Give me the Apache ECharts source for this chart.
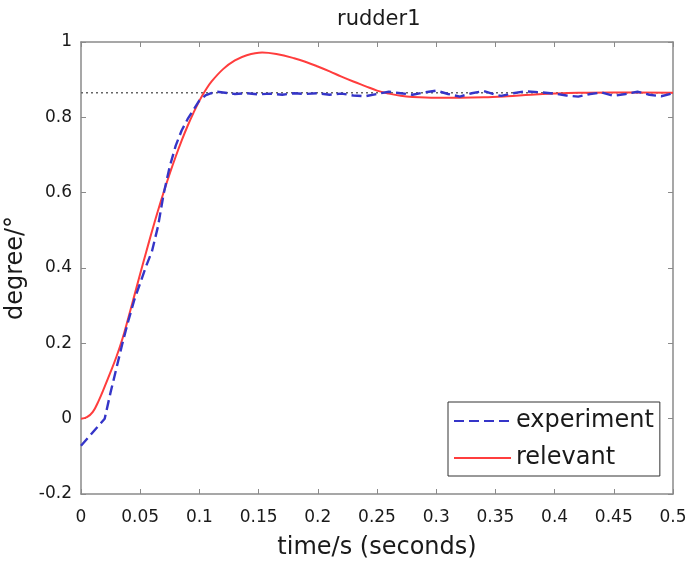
<!DOCTYPE html>
<html>
<head>
<meta charset="utf-8">
<script src="https://cdn.jsdelivr.net/npm/echarts@6/dist/echarts.min.js"></script>
<style>
  html, body { margin: 0; padding: 0; background: #fff; }
  #chart { width: 688px; height: 562px; }
</style>
</head>
<body>
<div id="chart"></div>
<script>
var chartDom = document.getElementById('chart')
var chart = echarts.init(chartDom)

// time samples (s) and values (degree)
var relevantT = [0, 0.005, 0.01, 0.015, 0.02, 0.025, 0.03, 0.035, 0.04, 0.045, 0.05, 0.055, 0.06, 0.065, 0.07, 0.075, 0.08, 0.085, 0.09, 0.095, 0.1, 0.105, 0.11, 0.12, 0.13, 0.14, 0.153, 0.165, 0.18, 0.19, 0.2, 0.21, 0.22, 0.23, 0.24, 0.25, 0.26, 0.27, 0.28, 0.3, 0.32, 0.34, 0.36, 0.38, 0.4, 0.42, 0.45, 0.5]
var relevantY = [0, 0.004, 0.018, 0.048, 0.085, 0.124, 0.165, 0.212, 0.268, 0.326, 0.385, 0.442, 0.498, 0.552, 0.603, 0.651, 0.696, 0.738, 0.777, 0.812, 0.844, 0.871, 0.894, 0.928, 0.951, 0.965, 0.972, 0.968, 0.957, 0.947, 0.935, 0.922, 0.908, 0.895, 0.883, 0.871, 0.863, 0.857, 0.854, 0.852, 0.852, 0.853, 0.856, 0.86, 0.863, 0.865, 0.866, 0.865]

var experimentT = [0, 0.01, 0.02, 0.025, 0.03, 0.035, 0.04, 0.045, 0.05, 0.055, 0.06, 0.065, 0.07, 0.075, 0.08, 0.085, 0.09, 0.095, 0.1, 0.105, 0.11, 0.115, 0.12, 0.13, 0.14, 0.15, 0.16, 0.17, 0.18, 0.19, 0.2, 0.21, 0.22, 0.23, 0.24, 0.25, 0.26, 0.27, 0.28, 0.29, 0.3, 0.31, 0.32, 0.33, 0.34, 0.35, 0.355, 0.365, 0.375, 0.39, 0.4, 0.41, 0.42, 0.43, 0.44, 0.45, 0.46, 0.47, 0.48, 0.49, 0.5]
var experimentY = [-0.072, -0.036, 0.0, 0.07, 0.135, 0.2, 0.26, 0.315, 0.36, 0.405, 0.445, 0.51, 0.6, 0.67, 0.725, 0.765, 0.795, 0.82, 0.845, 0.858, 0.864, 0.868, 0.866, 0.862, 0.864, 0.861, 0.863, 0.86, 0.864, 0.862, 0.864, 0.86, 0.863, 0.858, 0.856, 0.862, 0.868, 0.864, 0.86, 0.866, 0.871, 0.862, 0.855, 0.864, 0.87, 0.86, 0.857, 0.864, 0.869, 0.866, 0.863, 0.858, 0.855, 0.862, 0.866, 0.857, 0.862, 0.868, 0.86, 0.856, 0.864]

var refT = [0, 0.5]
var refY = [0.865, 0.865]

function pairs(xs, ys) {
  var out = []
  for (var i = 0; i < xs.length; i++) out.push([xs[i], ys[i]])
  return out
}

var font = 'DejaVu Sans'
var axisGray = '#8a8a8a'
var textColor = '#1a1a1a'

var option = {
  backgroundColor: '#fff',
  animation: false,
  title: {
    text: 'rudder1',
    left: 332,
    top: 4,
    textStyle: { fontFamily: font, fontSize: 21, fontWeight: 'normal', color: textColor }
  },
  grid: { left: 81, right: 15, top: 42, bottom: 68, outerBoundsMode: 'none' },
  legend: {
    data: ['experiment', 'relevant'],
    orient: 'vertical',
    left: 448,
    top: 402,
    itemWidth: 57,
    itemHeight: 14,
    itemGap: 13,
    padding: [7, 6, 6, 5],
    borderColor: '#333',
    borderWidth: 1,
    backgroundColor: '#fff',
    itemStyle: { opacity: 0 },
    textStyle: { fontFamily: font, fontSize: 24, color: textColor }
  },
  xAxis: [
    {
      type: 'value',
      min: 0,
      max: 0.5,
      interval: 0.05,
      name: 'time/s (seconds)',
      nameLocation: 'middle',
      nameGap: 42,
      nameTextStyle: { fontFamily: font, fontSize: 24, color: textColor },
      axisLine: { onZero: false, lineStyle: { color: axisGray, width: 1.5 } },
      axisTick: { inside: true, length: 5, lineStyle: { color: axisGray } },
      axisLabel: { fontFamily: font, fontSize: 17, color: textColor, margin: 15 },
      splitLine: { show: false }
    },
    {
      type: 'value',
      position: 'top',
      min: 0,
      max: 0.5,
      interval: 0.05,
      axisLine: { onZero: false, lineStyle: { color: axisGray, width: 1.5 } },
      axisTick: { inside: true, length: 5, lineStyle: { color: axisGray } },
      axisLabel: { show: false },
      splitLine: { show: false }
    }
  ],
  yAxis: [
    {
      type: 'value',
      min: -0.2,
      max: 1,
      interval: 0.2,
      name: 'degree/°',
      nameLocation: 'middle',
      nameGap: 45,
      nameTextStyle: { fontFamily: font, fontSize: 24, color: textColor },
      axisLine: { show: true, onZero: false, lineStyle: { color: axisGray, width: 1.5 } },
      axisTick: { show: true, inside: true, length: 5, lineStyle: { color: axisGray } },
      axisLabel: { fontFamily: font, fontSize: 17, color: textColor, margin: 9 },
      splitLine: { show: false }
    },
    {
      type: 'value',
      position: 'right',
      min: -0.2,
      max: 1,
      interval: 0.2,
      axisLine: { show: true, onZero: false, lineStyle: { color: axisGray, width: 1.5 } },
      axisTick: { show: true, inside: true, length: 5, lineStyle: { color: axisGray } },
      axisLabel: { show: false },
      splitLine: { show: false }
    }
  ],
  series: [
    {
      name: 'target',
      type: 'line',
      data: pairs(refT, refY),
      symbol: 'none',
      z: 1,
      lineStyle: { color: '#666', width: 1.5, type: [2, 3] }
    },
    {
      name: 'experiment',
      type: 'line',
      data: pairs(experimentT, experimentY),
      symbol: 'none',
      z: 3,
      color: '#3535c8',
      lineStyle: { color: '#3535c8', width: 2.4, type: [10, 5] }
    },
    {
      name: 'relevant',
      type: 'line',
      data: pairs(relevantT, relevantY),
      symbol: 'none',
      smooth: 0.4,
      z: 2,
      color: '#ff3d3d',
      lineStyle: { color: '#ff3d3d', width: 2 }
    }
  ]
}

chart.setOption(option)
</script>
</body>
</html>
